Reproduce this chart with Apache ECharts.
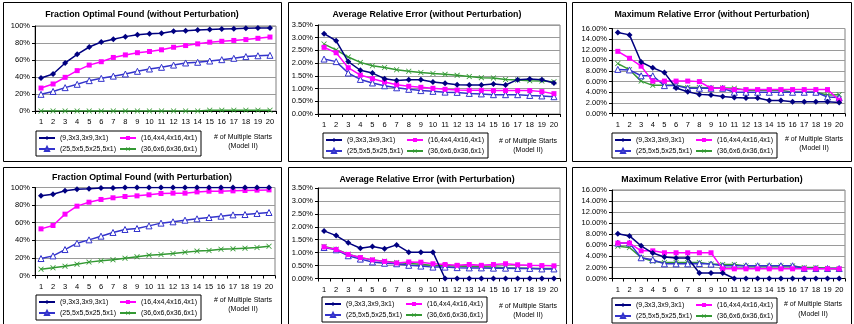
<!DOCTYPE html>
<html><head><meta charset="utf-8">
<script src="https://cdn.jsdelivr.net/npm/echarts@6/dist/echarts.min.js"></script>
<style>html,body{margin:0;padding:0;background:#fff}#c{width:854px;height:324px}</style>
</head><body><div id="c"></div>
<script>
const categories = ['1','2','3','4','5','6','7','8','9','10','11','12','13','14','15','16','17','18','19','20'];
const seriesNames = ['(9,3x3,3x9,3x1)', '(16,4x4,4x16,4x1)', '(25,5x5,5x25,5x1)', '(36,6x6,6x36,6x1)'];
const panelTitles = [
  'Fraction Optimal Found (without Perturbation)',
  'Average Relative Error (without Perturbation)',
  'Maximum Relative Error (without Perturbation)',
  'Fraction Optimal Found (with Perturbation)',
  'Average Relative Error (with Perturbation)',
  'Maximum Relative Error (with Perturbation)'
];
const xAxisNameLines = ['# of Multiple Starts', '(Model II)'];

// Fraction optimal found (%) without perturbation
const foNo9  = [38.8,43.5,56.5,66.7,75.3,81.2,84.3,87.5,89.8,91,91.4,93.7,94.5,95.3,96,96.5,96.9,97.3,97.6,97.6];
const foNo16 = [27,31.8,39.6,47.5,54,58,63,66,68.6,70,72,75,77,79,81,82,83,84,85.5,87];
const foNo25 = [19.6,23,27.5,31.4,35.7,38.4,41,43.5,46.7,49.4,51.4,54,56.5,57.3,58.8,60.4,62,64,65,65.5];
const foNo36 = [0,0,0,0,0,0,0,0,0,0,0,0,0,0,0.8,0.8,0.8,0.8,0.8,0.8];
// Average relative error (%) without perturbation
const areNo9  = [3.16,2.88,2.06,1.72,1.61,1.39,1.32,1.35,1.35,1.26,1.21,1.15,1.14,1.14,1.18,1.14,1.35,1.38,1.35,1.22];
const areNo16 = [2.62,2.41,1.82,1.53,1.39,1.26,1.15,1.09,1.05,1.01,0.97,0.94,0.93,0.93,0.92,0.92,0.92,0.92,0.88,0.80];
const areNo25 = [2.16,2.06,1.61,1.36,1.22,1.11,1.03,0.97,0.92,0.89,0.86,0.85,0.81,0.79,0.76,0.76,0.76,0.73,0.71,0.68];
const areNo36 = [2.75,2.52,2.24,2.03,1.90,1.83,1.74,1.68,1.63,1.59,1.56,1.52,1.47,1.43,1.42,1.36,1.34,1.31,1.30,1.27];
// Maximum relative error (%) without perturbation
const mreNo9  = [15.25,14.8,9.7,8.6,7.7,4.8,4.1,3.6,3.5,3.2,3.0,2.9,2.9,2.45,2.45,2.2,2.2,2.2,2.2,2.05];
const mreNo16 = [11.7,10.4,8.9,6.1,6.1,6.1,6.1,6.0,4.75,4.75,4.5,4.5,4.5,4.5,4.5,4.5,4.5,4.5,4.5,2.5];
const mreNo25 = [8.3,8.2,7.1,7.1,5.25,5.25,4.75,4.75,4.75,4.75,4.0,4.0,4.0,4.0,4.0,4.0,4.0,4.0,3.1,3.0];
const mreNo36 = [9.4,8.25,6.1,5.3,5.3,5.3,4.9,4.9,4.8,4.8,4.75,4.4,4.4,4.4,4.4,4.0,4.0,4.0,3.5,3.55];
// Fraction optimal found (%) with perturbation
const foP9  = [90.5,92.4,96.2,98.1,98.5,99.5,99.5,100,100,100,100,100,100,100,100,100,100,100,100,100];
const foP16 = [53,56.8,69.7,78.8,83.3,86.4,88.3,89.8,90.5,91.7,93.2,93.6,93.6,95,95.8,95.8,96.2,96.6,97,97.3];
const foP25 = [19.3,22.3,29.5,36.7,40.5,44.7,48.9,52.3,53.4,56.4,59.5,61,62.9,64.4,65.9,67.4,68.9,69.3,70.5,71.6];
const foP36 = [7.2,8.7,10.6,12.9,15.2,16.7,17.8,19.7,21.2,23.1,23.9,25,26.5,27.7,28.4,29.9,30.3,31.1,31.8,33.3];
// Average relative error (%) with perturbation
const areP9  = [1.84,1.66,1.38,1.17,1.24,1.15,1.30,1.02,1.02,1.02,0,0,0,0,0,0,0,0,0,0];
const areP16 = [1.22,1.12,0.93,0.81,0.72,0.66,0.60,0.64,0.63,0.57,0.54,0.51,0.54,0.51,0.54,0.57,0.53,0.51,0.50,0.49];
const areP25 = [1.20,1.11,0.88,0.75,0.64,0.59,0.57,0.51,0.48,0.44,0.44,0.42,0.41,0.41,0.40,0.40,0.39,0.39,0.37,0.37];
const areP36 = [1.24,1.13,0.94,0.80,0.72,0.67,0.62,0.58,0.55,0.50,0.49,0.48,0.46,0.45,0.44,0.42,0.41,0.40,0.39,0.39];
// Maximum relative error (%) with perturbation
const mreP9  = [8.1,7.7,5.9,4.6,3.9,3.7,3.7,1.0,1.0,1.0,0,0,0,0,0,0,0,0,0,0];
const mreP16 = [6.4,6.4,5.0,5.0,4.65,4.65,4.65,4.65,4.65,1.75,1.75,1.75,1.75,1.75,1.75,1.75,1.75,1.75,1.75,1.75];
const mreP25 = [6.4,6.4,3.75,3.4,2.65,2.65,2.65,2.7,2.6,2.3,2.3,2.3,2.3,2.3,2.3,2.3,1.8,1.8,1.8,1.8];
const mreP36 = [5.85,5.6,3.8,3.1,2.9,2.9,2.9,2.9,2.6,2.55,2.55,2.25,2.25,2.25,2.25,2.25,2.0,2.0,1.8,1.7];

const panelData = [
  [foNo9, foNo16, foNo25, foNo36],
  [areNo9, areNo16, areNo25, areNo36],
  [mreNo9, mreNo16, mreNo25, mreNo36],
  [foP9, foP16, foP25, foP36],
  [areP9, areP16, areP25, areP36],
  [mreP9, mreP16, mreP25, mreP36]
];
const yMax = [100, 3.5, 16, 100, 3.5, 16];
const yStep = [20, 0.5, 2, 20, 0.5, 2];
const yDecimals = [0, 2, 2, 0, 2, 2];

// layout (pixels)
const FONT = "'Liberation Sans', Arial, sans-serif";
const grids = [
  {left: 35, top: 26, width: 241, height: 85},
  {left: 318, top: 25, width: 242, height: 89},
  {left: 612, top: 28.5, width: 233, height: 85},
  {left: 35, top: 187.5, width: 240, height: 88},
  {left: 318, top: 188, width: 242, height: 90.5},
  {left: 612, top: 190, width: 233, height: 88.5}
];
const titlePos = [[142, 15], [427, 15], [712, 15], [142, 178], [427, 179.5], [712, 179.5]];
const legendPos = [[36, 131], [323, 133], [612, 133], [36, 295], [322, 297], [612, 298]];
const namePos = [[243, 137, 146], [528, 141.5, 150.5], [814, 139, 148], [243, 300, 309.5], [528, 306, 315.5], [813, 304.5, 314]];
const frames = [
  [3, 2, 278, 159], [288, 2, 278, 159], [572, 2, 279, 159],
  [3, 167, 278, 170], [288, 167, 278, 170], [572, 167, 279, 170]
];

const colors = ['#000080', '#FF00FF', '#3333CC', '#339933'];
const symbols = ['diamond', 'rect', 'path://M5,0L10,9L0,9Z',
  'path://M0,1L1,0L5,4L9,0L10,1L6,5L10,9L9,10L5,6L1,10L0,9L4,5Z'];
const symbolSizes = [6, 5, 6, 5.5];
const symbolFills = ['#000080', '#FF00FF', '#ffffff', '#339933'];

const option = {
  animation: false,
  backgroundColor: '#fff',
  textStyle: {fontFamily: FONT},
  grid: [], xAxis: [], yAxis: [], series: [], legend: [], graphic: []
};

for (let p = 0; p < 6; p++) {
  option.grid.push(Object.assign({show: true, borderColor: '#808080', borderWidth: 1, backgroundColor: '#fff'}, grids[p]));
  option.xAxis.push({
    type: 'category', gridIndex: p, data: categories, boundaryGap: true,
    axisLine: {lineStyle: {color: '#000', width: 1}},
    axisTick: {show: true, length: 3, lineStyle: {color: '#000'}},
    axisLabel: {interval: 0, margin: 7, fontSize: 7.5, color: '#000', fontFamily: FONT},
    splitLine: {show: false}
  });
  const dec = yDecimals[p];
  option.yAxis.push({
    type: 'value', gridIndex: p, min: 0, max: yMax[p], interval: yStep[p],
    axisLine: {show: true, lineStyle: {color: '#000', width: 1}},
    axisTick: {show: true, length: 3, lineStyle: {color: '#000'}},
    axisLabel: {margin: 5, fontSize: 7.5, color: '#000', fontFamily: FONT,
      formatter: v => v.toFixed(dec) + '%'},
    splitLine: {show: true, lineStyle: {color: '#9a9a9a', width: 1}}
  });
  for (let s = 0; s < 4; s++) {
    option.series.push({
      type: 'line', name: seriesNames[s], xAxisIndex: p, yAxisIndex: p,
      data: panelData[p][s],
      symbol: symbols[s], symbolSize: symbolSizes[s], showAllSymbol: true,
      color: colors[s],
      itemStyle: s === 2 ? {color: symbolFills[s], borderColor: colors[s], borderWidth: 1} : {color: symbolFills[s]},
      lineStyle: {color: colors[s], width: 1.5},
      z: 10 - s
    });
  }
  option.legend.push({
    left: legendPos[p][0], top: legendPos[p][1], orient: 'horizontal', width: 200,
    itemWidth: 16, itemHeight: 5, itemGap: 1, padding: [2, 2],
    borderColor: '#000', borderWidth: 1, backgroundColor: '#fff',
    selectedMode: false,
    textStyle: {fontSize: 7, width: 58, overflow: 'none', lineHeight: 10, color: '#000', fontFamily: FONT},
    data: seriesNames
  });
  option.graphic.push({
    type: 'rect', silent: true, z: -1,
    shape: {x: frames[p][0] + 0.5, y: frames[p][1] + 0.5, width: frames[p][2], height: frames[p][3]},
    style: {fill: 'none', stroke: '#000', lineWidth: 1}
  });
  option.graphic.push({
    type: 'text', x: titlePos[p][0], y: titlePos[p][1], silent: true,
    style: {text: panelTitles[p], font: 'bold 8.8px ' + FONT, fill: '#000', align: 'center', verticalAlign: 'middle'}
  });
  option.graphic.push({
    type: 'text', x: namePos[p][0], y: namePos[p][1], silent: true,
    style: {text: xAxisNameLines[0], font: '7px ' + FONT, fill: '#000', align: 'center', verticalAlign: 'middle'}
  });
  option.graphic.push({
    type: 'text', x: namePos[p][0], y: namePos[p][2], silent: true,
    style: {text: xAxisNameLines[1], font: '7px ' + FONT, fill: '#000', align: 'center', verticalAlign: 'middle'}
  });
}

const chart = echarts.init(document.getElementById('c'), null, {renderer: 'canvas'});
chart.setOption(option);
</script>
</body></html>
